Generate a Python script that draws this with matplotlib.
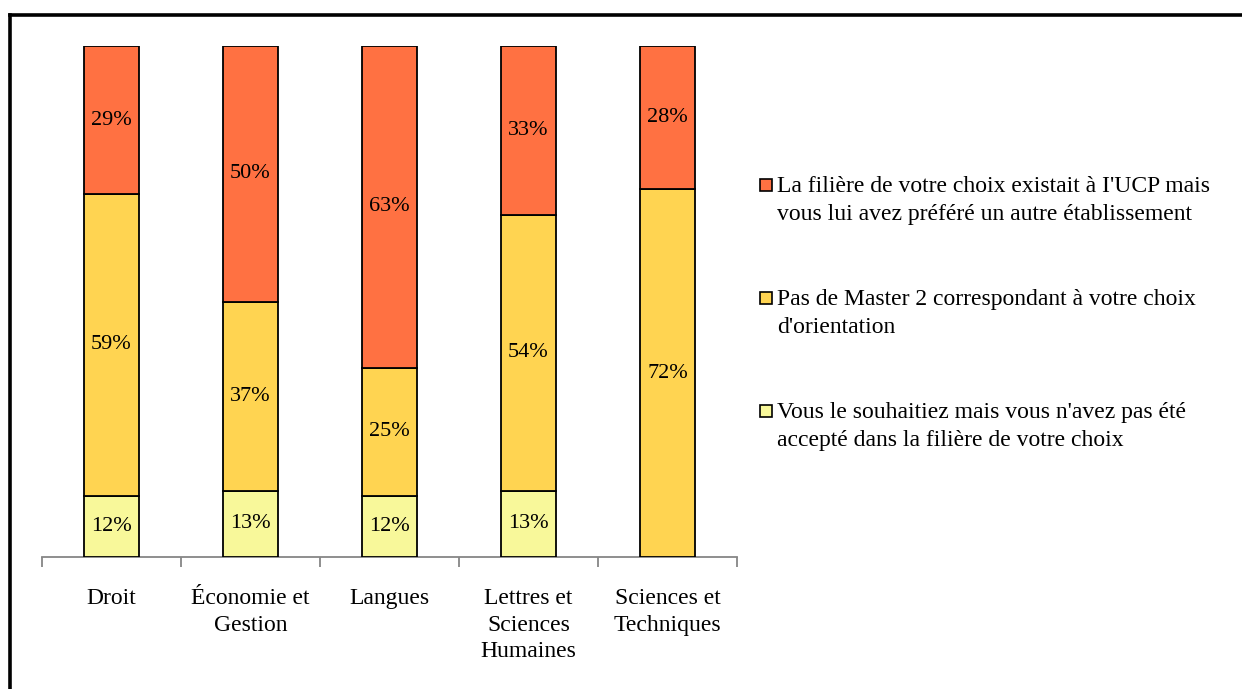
import matplotlib.pyplot as plt
from matplotlib.patches import Rectangle
from matplotlib.lines import Line2D

plt.rcParams['font.family'] = ['Liberation Serif', 'DejaVu Serif']

categories = ["Droit", "Économie et\nGestion", "Langues", "Lettres et\nSciences\nHumaines",
              "Sciences et\nTechniques"]
pas_accepte = [12, 13, 12, 13, 0]
pas_master = [59, 37, 25, 54, 72]
autre_etab = [29, 50, 63, 33, 28]

series = [pas_accepte, pas_master, autre_etab]
labels = ["Vous le souhaitiez mais vous n'avez pas été\naccepté dans la filière de votre choix",
          "Pas de Master 2 correspondant à votre choix\nd'orientation",
          "La filière de votre choix existait à I'UCP mais\nvous lui avez préféré un autre établissement"]
colors = ['#F8F89A', '#FFD451', '#FF7142']

W, H = 1242, 689
fig = plt.figure(figsize=(W / 100, H / 100), dpi=100)
ax = fig.add_axes([42 / W, 1 - 557 / H, (737 - 42) / W, (557 - 46) / H])

x = range(len(categories))
bottom = [0] * len(categories)
for vals, c in zip(series, colors):
    bars = ax.bar(x, vals, 0.4, bottom=bottom, color=c, edgecolor='black', linewidth=1.3, zorder=3)
    for b, v, b0 in zip(bars, vals, bottom):
        if v > 0:
            ax.text(b.get_x() + b.get_width() / 2, b0 + v / 2, f"{v}%", ha='center', va='center',
                    fontsize=16, zorder=4)
    bottom = [a + v for a, v in zip(bottom, vals)]

ax.set_xlim(-0.5, len(categories) - 0.5)
ax.set_ylim(0, 100)
for s in ['top', 'right', 'left']:
    ax.spines[s].set_visible(False)
ax.spines['bottom'].set_color('#868686')
ax.spines['bottom'].set_linewidth(1.3)
ax.set_yticks([])
ax.set_xticks(list(x))
ax.set_xticklabels(categories, fontsize=17, linespacing=1.35)
ax.tick_params(axis='x', which='major', length=0, pad=22.5)
ax.set_xticks([i - 0.5 for i in range(len(categories) + 1)], minor=True)
ax.tick_params(axis='x', which='minor', length=7, width=1.3, color='#868686')

# legend, drawn by hand so the square sits on the first line
leg_y = [185, 298, 411]
for lab, c, yy in zip(labels[::-1], colors[::-1], leg_y):
    fig.patches.append(Rectangle((760 / W, 1 - (yy + 6) / H), 12 / W, 12 / H, transform=fig.transFigure,
                                 facecolor=c, edgecolor='black', linewidth=1.2))
    fig.text(777 / W, 1 - (yy - 9) / H, lab, fontsize=17, va='top', ha='left', linespacing=1.45)

# outer frame (top and left visible)
fig.lines.append(Line2D([10 / W, 1], [1 - 14.5 / H] * 2, transform=fig.transFigure, color='black', linewidth=2.6))
fig.lines.append(Line2D([10 / W] * 2, [0, 1 - 14.5 / H], transform=fig.transFigure, color='black', linewidth=2.6))

fig.savefig('out.png', dpi=100)
